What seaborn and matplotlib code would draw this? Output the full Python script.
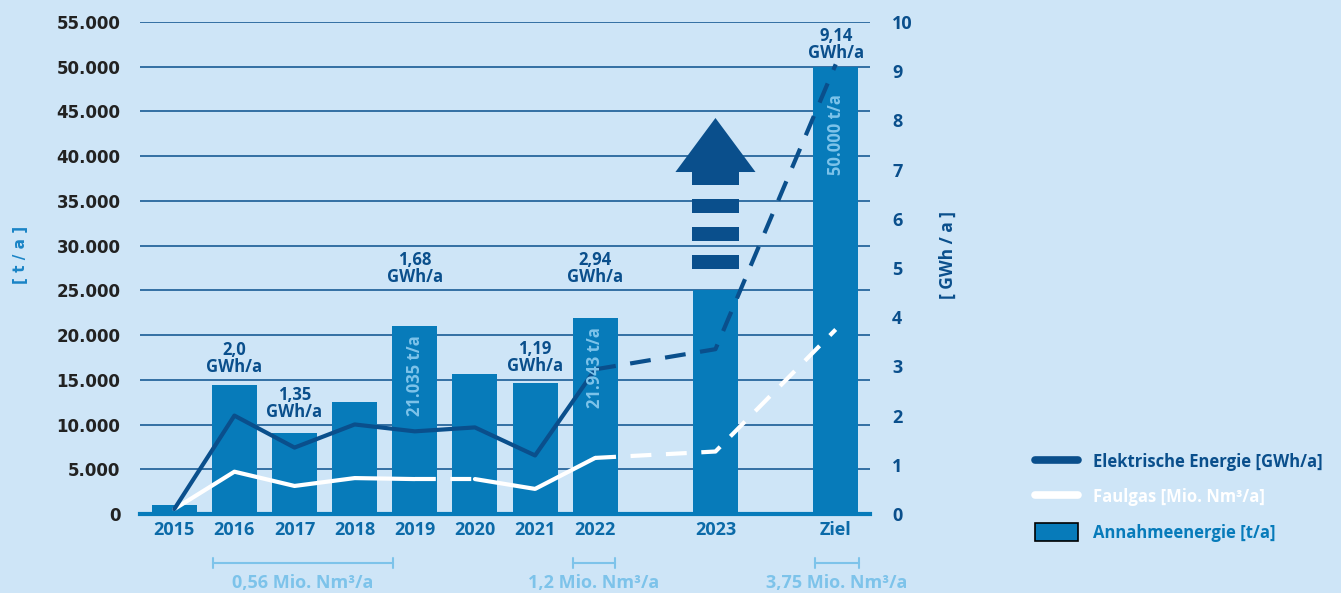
import matplotlib
matplotlib.use("Agg")
import matplotlib.pyplot as plt
import matplotlib.transforms as mtransforms
from matplotlib.lines import Line2D
from matplotlib.patches import Rectangle, Polygon
import seaborn as sns

# Daten
kategorien = ["2015", "2016", "2017", "2018", "2019", "2020", "2021", "2022", "2023", "Ziel"]
x_pos = [0, 1, 2, 3, 4, 5, 6, 7, 9, 11]
annahme_t = [1000, 14400, 9000, 12500, 21035, 15700, 14700, 21943, 25000, 50000]
strom_gwh = [0.1, 2.0, 1.35, 1.82, 1.68, 1.76, 1.19, 2.94, 3.35, 9.14]
faulgas_mio = [0.1, 0.86, 0.57, 0.73, 0.71, 0.71, 0.51, 1.14, 1.27, 3.75]

gwh_idx = [1, 2, 4, 6, 7, 9]
gwh_texte = ["2,0\nGWh/a", "1,35\nGWh/a", "1,68\nGWh/a", "1,19\nGWh/a", "2,94\nGWh/a", "9,14\nGWh/a"]
gwh_label_y = [15430, 10400, 25490, 15540, 25490, 50530]

balken_idx = [4, 7, 9]

klammer_spannen = [(0.645, 3.64), (6.63, 7.33), (10.66, 11.38)]
klammer_texte = ["0,56 Mio. Nm³/a", "1,2 Mio. Nm³/a", "3,75 Mio. Nm³/a"]

# Farben
bg = "#cee5f7"
dunkel = "#0a4f8c"
balken = "#077bba"
hell = "#7dc3ea"
schrift = "Open Sans"

sns.set_style("white")
plt.rcParams["font.family"] = [schrift, "DejaVu Sans"]

fig = plt.figure(figsize=(13.41, 5.93), dpi=100)
fig.patch.set_facecolor(bg)
ax = fig.add_axes([140 / 1341, 1 - 514 / 593, 730 / 1341, 492 / 593])
ax.set_facecolor(bg)

sns.barplot(x=x_pos, y=annahme_t, native_scale=True, width=0.75, color=balken,
            saturation=1, errorbar=None, linewidth=0, edgecolor=balken, ax=ax, zorder=2)

ax.set_xlim(-0.57, 11.57)
ax.set_ylim(0, 55000)
ax.set_yticks(range(0, 55001, 5000))
ax.set_yticklabels([f"{v:,}".replace(",", ".") for v in range(0, 55001, 5000)],
                   family="DejaVu Sans", weight="bold", fontsize=12, color="#222222")
ax.set_xticks(x_pos)
ax.set_xticklabels(kategorien, weight="bold", fontsize=13, color="#0b6aa8")
ax.tick_params(axis="y", length=0, pad=14)
ax.tick_params(axis="x", length=0, pad=5)
ax.yaxis.grid(True, color=dunkel, lw=1.1)
ax.set_axisbelow(True)
for s in ["top", "left", "right"]:
    ax.spines[s].set_visible(False)
ax.spines["bottom"].set_color(balken)
ax.spines["bottom"].set_linewidth(3)
ax.set_xlabel("")
ax.set_ylabel("")

# Pfeil ueber 2023
xa = x_pos[8]
basis = annahme_t[8]
for k in range(3):
    ax.add_patch(Rectangle((xa - 0.385, basis + 2390 + k * 3130), 0.77, 1565,
                           color=dunkel, lw=0, zorder=3))
ax.add_patch(Rectangle((xa - 0.385, basis + 11780), 0.77, 1460, color=dunkel, lw=0, zorder=3))
ax.add_patch(Polygon([(xa - 0.666, basis + 13230), (xa + 0.666, basis + 13230),
                      (xa, basis + 19270)], closed=True, color=dunkel, lw=0, zorder=3))

# Linien auf zweiter Achse
ax2 = ax.twinx()
ax2.set_ylim(0, 10)
lw = 3


def linie(idx, werte, farbe, gestrichelt):
    xs = [x_pos[i] for i in idx]
    ys = [werte[i] for i in idx]
    kw = dict(color=farbe, linewidth=lw, ax=ax2, solid_joinstyle="round",
              solid_capstyle="round")
    if gestrichelt:
        kw["linestyle"] = (0, (5, 3.5))
    sns.lineplot(x=xs, y=ys, **kw)


linie(range(0, 5), faulgas_mio, "white", False)
linie([4, 5], faulgas_mio, "white", True)
linie(range(5, 8), faulgas_mio, "white", False)
linie([7, 8, 9], faulgas_mio, "white", True)
linie(range(0, 8), strom_gwh, dunkel, False)
linie([7, 8, 9], strom_gwh, dunkel, True)

ax2.set_xlim(-0.57, 11.57)
ax2.set_ylim(0, 10)
ax2.set_yticks(range(0, 11))
ax2.set_yticklabels([str(v) for v in range(0, 11)], weight="bold", fontsize=13, color=dunkel)
ax2.tick_params(axis="y", length=0, pad=16)
for s in ax2.spines.values():
    s.set_visible(False)
ax2.set_xlabel("")
ax2.set_ylabel("")

# Beschriftungen
for i, txt, yt in zip(gwh_idx, gwh_texte, gwh_label_y):
    ax.text(x_pos[i], yt, txt, ha="center", va="bottom", fontsize=12, weight="bold",
            color=dunkel, linespacing=0.92, zorder=5)

for i in balken_idx:
    off = -20 if i == 9 else -7
    ax2.annotate(f"{annahme_t[i]:,} t/a".replace(",", "."),
                 xy=(x_pos[i], annahme_t[i] / 5500), xytext=(0, off),
                 textcoords="offset points", rotation=90, ha="center", va="top",
                 fontsize=12, weight="bold", color=hell, zorder=6)

trans = mtransforms.blended_transform_factory(ax.transData, ax.transAxes)
for (a, b), txt in zip(klammer_spannen, klammer_texte):
    ax.plot([a, b], [-0.0996, -0.0996], color=hell, lw=1.5, transform=trans, clip_on=False)
    for e in (a, b):
        ax.plot([e, e], [-0.09, -0.109], color=hell, lw=1.5, transform=trans, clip_on=False)
    ax.text((a + b) / 2, -0.141, txt, ha="center", va="center", fontsize=13,
            weight="bold", color=hell, transform=trans, clip_on=False)

fig.text(20 / 1341, 1 - 255 / 593, "[ t / a ]", rotation=90, ha="center", va="center",
         fontsize=11, weight="bold", color="#1a84c6", family="DejaVu Sans")
fig.text(948 / 1341, 1 - 255 / 593, "[ GWh / a ]", rotation=90, ha="center", va="center",
         fontsize=12.5, weight="bold", color=dunkel)

handles = [Line2D([], [], color=dunkel, lw=5.5, solid_capstyle="round"),
           Line2D([], [], color="white", lw=5.5, solid_capstyle="round"),
           Rectangle((0, 0), 1, 1, facecolor=balken, edgecolor="black", lw=1.2)]
labels = ["Elektrische Energie [GWh/a]", "Faulgas [Mio. Nm³/a]", "Annahmeenergie [t/a]"]
fig.legend(handles, labels, loc="center left", bbox_to_anchor=(1020 / 1341, 1 - 497 / 593),
           frameon=False, labelcolor=[dunkel, "white", balken],
           prop=dict(weight="bold", size=12, family=schrift),
           handlelength=2.6, handleheight=1.3, labelspacing=1.0, handletextpad=0.9)

fig.savefig("out.png", dpi=100, facecolor=bg)
